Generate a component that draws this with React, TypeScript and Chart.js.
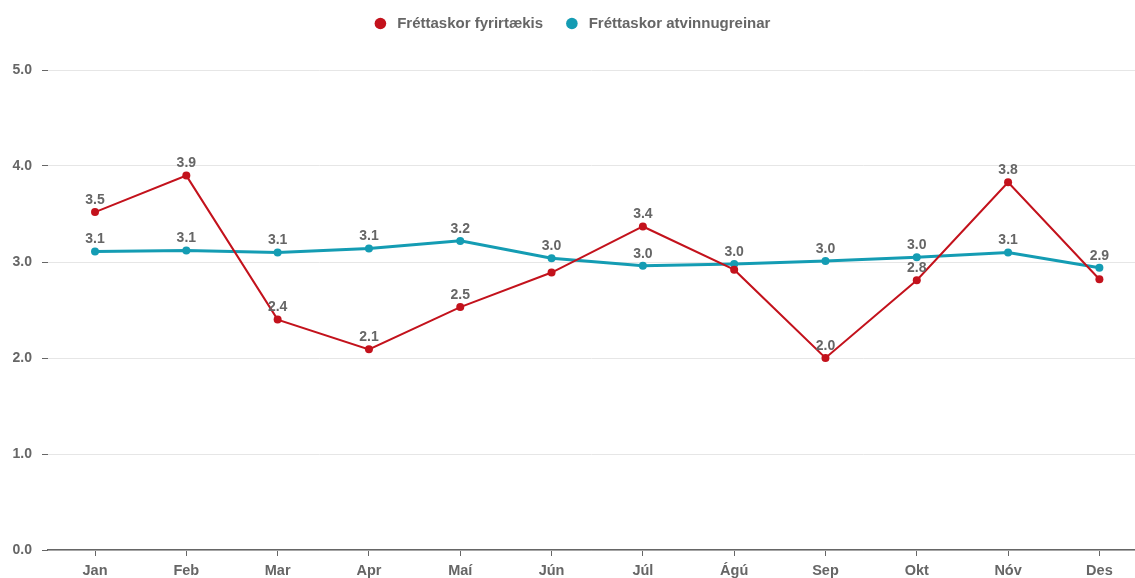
import React, { useEffect, useRef } from 'react';
import { Chart, registerables } from 'chart.js';
Chart.register(...registerables);

const categories = ['Jan', 'Feb', 'Mar', 'Apr', 'Maí', 'Jún', 'Júl', 'Ágú', 'Sep', 'Okt', 'Nóv', 'Des'];
const companyScores = [3.52, 3.9, 2.4, 2.09, 2.53, 2.89, 3.37, 2.92, 2.0, 2.81, 3.83, 2.82];
const industryScores = [3.11, 3.12, 3.1, 3.14, 3.22, 3.04, 2.96, 2.98, 3.01, 3.05, 3.1, 2.94];
const yTicks = [0, 1, 2, 3, 4, 5];
const seriesNames = ['Fréttaskor fyrirtækis', 'Fréttaskor atvinnugreinar'];
const hiddenCompanyLabels = ['Jún', 'Ágú', 'Des'];

const RED = '#c3121c';
const TEAL = '#149cb3';
const GRAY = '#666666';
const FONT = "'Liberation Sans', Arial, sans-serif";

const dataLabelPlugin = {
  id: 'dataLabels',
  afterDatasetsDraw(chart: any) {
    const ctx = chart.ctx;
    ctx.save();
    ctx.font = `bold 14px ${FONT}`;
    ctx.fillStyle = GRAY;
    ctx.textAlign = 'center';
    ctx.textBaseline = 'middle';
    chart.data.datasets.forEach((ds: any, di: number) => {
      const meta = chart.getDatasetMeta(di);
      meta.data.forEach((el: any, i: number) => {
        if (di === 0 && hiddenCompanyLabels.includes(categories[i])) return;
        const v = ds.data[i].y;
        ctx.fillText(v.toFixed(1), el.x, el.y - 12);
      });
    });
    ctx.restore();
  },
};

const customLegend = {
  id: 'customLegend',
  afterDraw(chart: any) {
    const ctx = chart.ctx;
    ctx.save();
    ctx.font = `bold 15px ${FONT}`;
    const r = 5.8;
    const gapText = 11;
    const gapItem = 23;
    const items = chart.data.datasets.map((ds: any) => ({
      label: ds.label,
      color: ds.borderColor,
      w: ctx.measureText(ds.label).width,
    }));
    let total = 0;
    items.forEach((it: any, i: number) => {
      total += 2 * r + gapText + it.w + (i < items.length - 1 ? gapItem : 0);
    });
    let x = chart.width / 2 + 5 - total / 2;
    const y = 23.5;
    ctx.textBaseline = 'middle';
    ctx.textAlign = 'left';
    items.forEach((it: any) => {
      ctx.fillStyle = it.color;
      ctx.beginPath();
      ctx.arc(x + r, y, r, 0, Math.PI * 2);
      ctx.fill();
      x += 2 * r + gapText;
      ctx.fillStyle = GRAY;
      ctx.fillText(it.label, x, y);
      x += it.w + gapItem;
    });
    ctx.restore();
  },
};

export default function App() {
  const ref = useRef<HTMLCanvasElement>(null);
  useEffect(() => {
    document.body.style.margin = '0';
    const toPoints = (arr: number[]) => arr.map((y, i) => ({ x: i, y }));
    const chart = new Chart(ref.current!, {
      type: 'line',
      data: {
        datasets: [
          {
            label: seriesNames[0],
            data: toPoints(companyScores),
            borderColor: RED,
            backgroundColor: RED,
            borderWidth: 2,
            pointRadius: 4,
            pointBackgroundColor: RED,
            pointBorderWidth: 0,
            tension: 0,
          },
          {
            label: seriesNames[1],
            data: toPoints(industryScores),
            borderColor: TEAL,
            backgroundColor: TEAL,
            borderWidth: 3,
            pointRadius: 4,
            pointBackgroundColor: TEAL,
            pointBorderWidth: 0,
            tension: 0,
          },
        ],
      },
      options: {
        animation: false,
        responsive: false,
        maintainAspectRatio: false,
        layout: { autoPadding: false, padding: { top: 70, left: 0, right: 0, bottom: 0 } },
        plugins: {
          legend: { display: false },
          tooltip: { enabled: false },
        },
        scales: {
          x: {
            type: 'linear',
            min: -0.515,
            max: 11.39,
            afterBuildTicks(scale: any) {
              scale.ticks = categories.map((_, i) => ({ value: i }));
            },
            afterFit(scale: any) {
              scale.height = 28;
              scale.paddingLeft = 0;
              scale.paddingRight = 0;
            },
            ticks: {
              autoSkip: false,
              maxRotation: 0,
              padding: 6,
              color: GRAY,
              font: { family: FONT, size: 14.5, weight: 'bold' },
              callback: (v: any) => categories[v] ?? '',
            },
            grid: {
              drawOnChartArea: false,
              drawTicks: true,
              tickLength: 6,
              tickColor: GRAY,
              tickWidth: 1,
            },
            border: { display: true, color: GRAY, width: 1.5 },
          },
          y: {
            min: 0,
            max: 5,
            afterBuildTicks(scale: any) {
              scale.ticks = yTicks.map((v) => ({ value: v }));
            },
            afterFit(scale: any) {
              scale.width = 48;
            },
            ticks: {
              padding: 10,
              color: GRAY,
              font: { family: FONT, size: 14, weight: 'bold' },
              callback: (v: any) => Number(v).toFixed(1),
            },
            grid: {
              color: '#e6e6e6',
              lineWidth: 1,
              drawTicks: true,
              tickLength: 6,
              tickColor: GRAY,
            },
            border: { display: false },
          },
        },
      } as any,
      plugins: [dataLabelPlugin, customLegend],
    });
    return () => chart.destroy();
  }, []);
  return (
    <div style={{ width: 1135, height: 578 }}>
      <canvas ref={ref} width={1135} height={578} style={{ display: 'block' }} />
    </div>
  );
}
